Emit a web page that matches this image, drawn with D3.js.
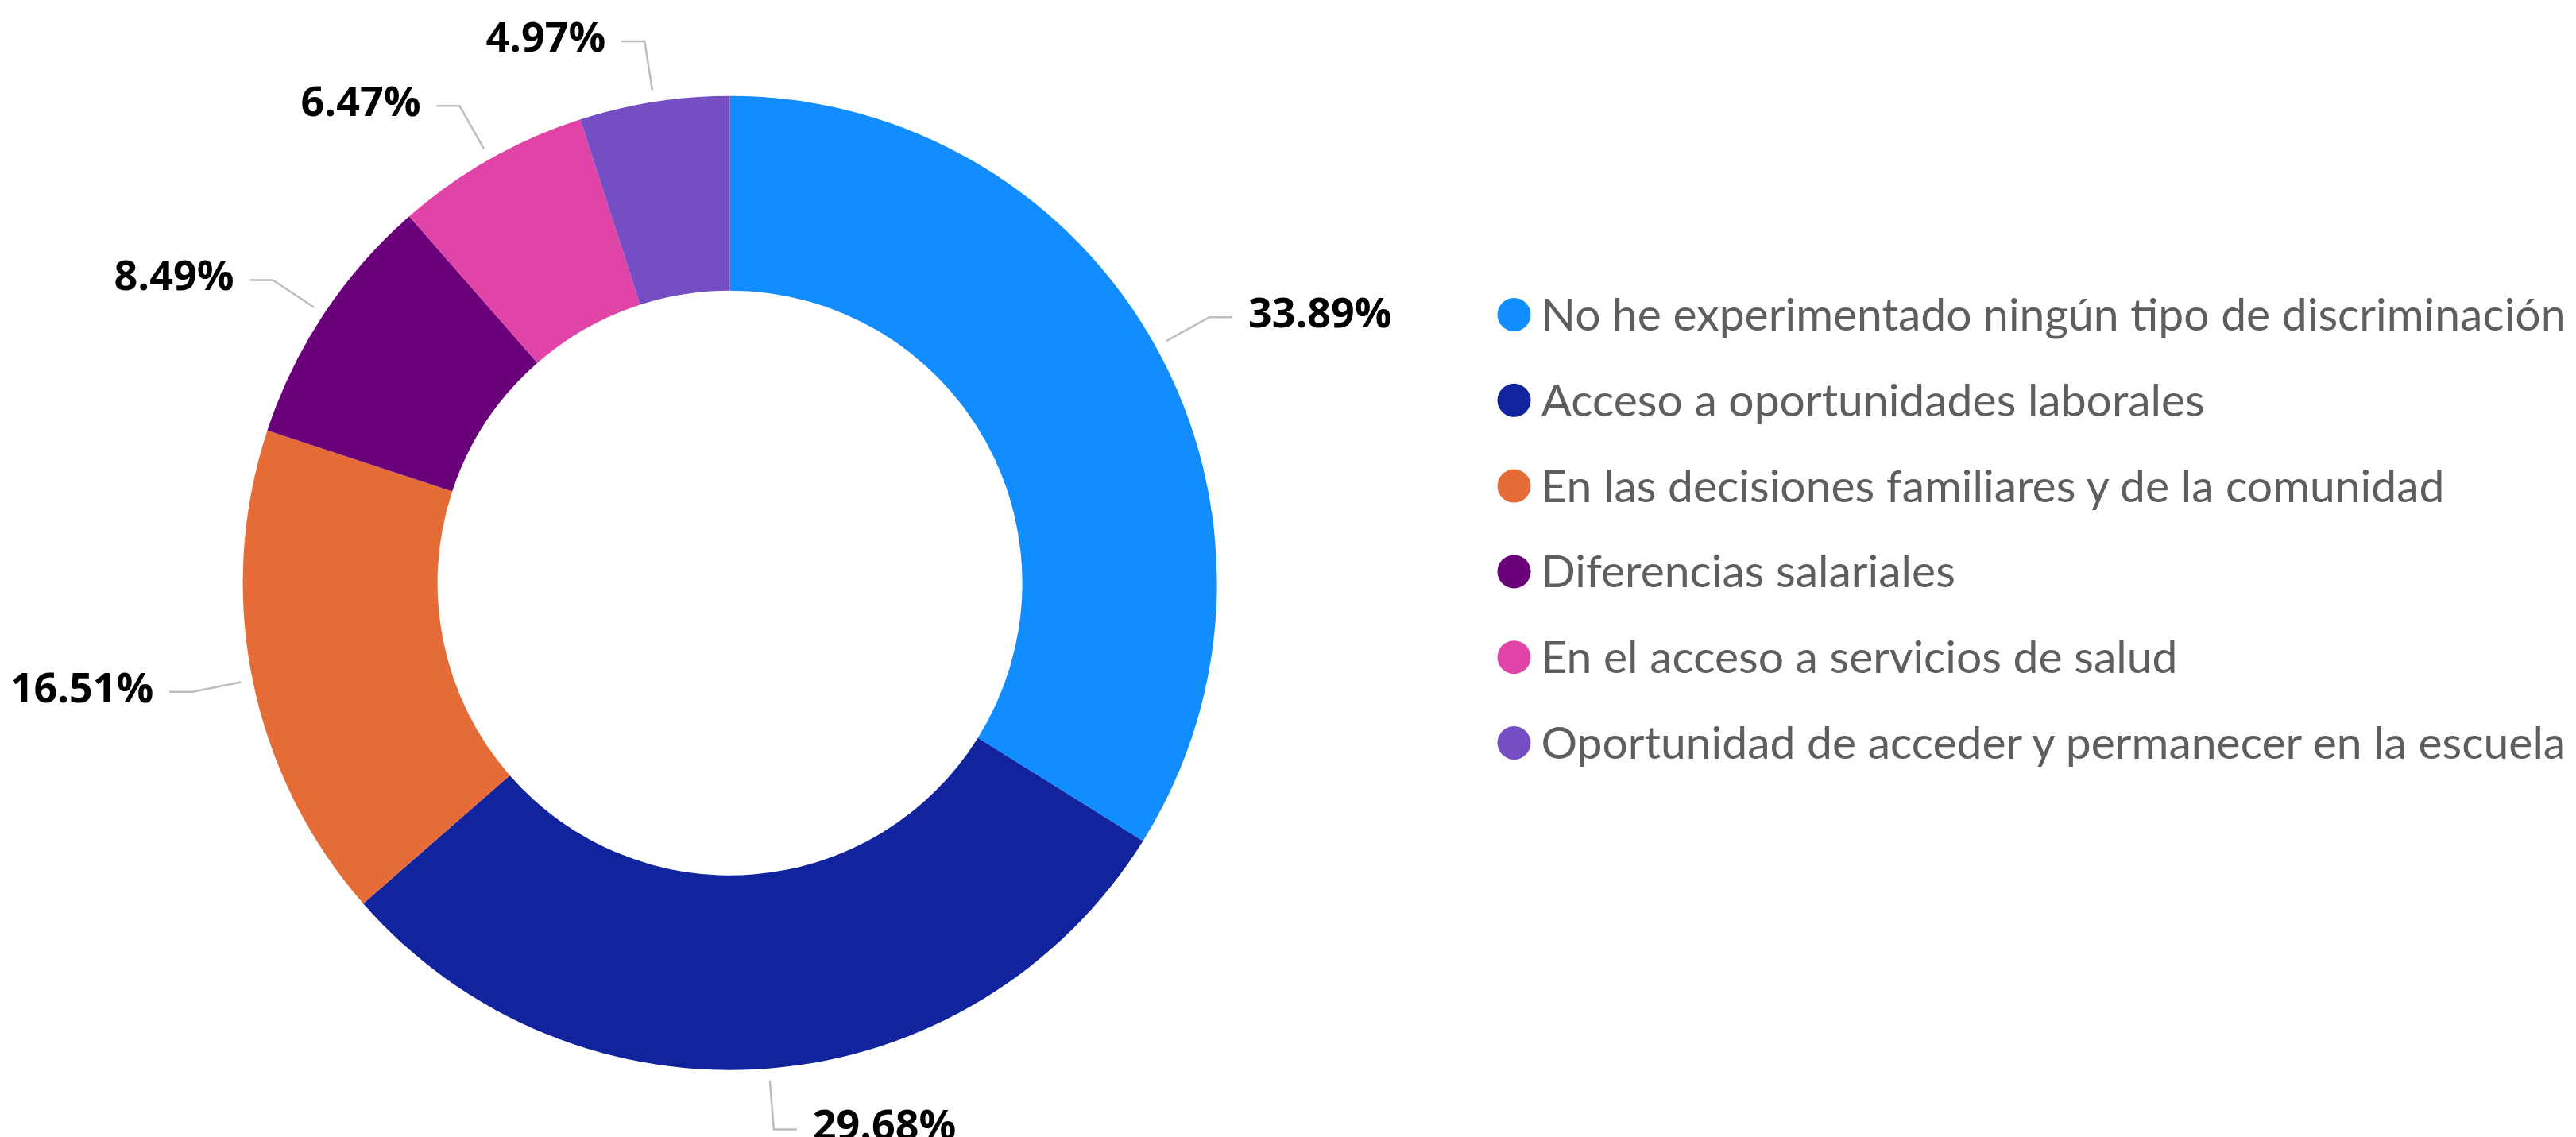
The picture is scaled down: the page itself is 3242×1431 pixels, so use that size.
<!DOCTYPE html>
<html>
<head>
<meta charset="utf-8">
<script src="https://cdn.jsdelivr.net/npm/d3@7/dist/d3.min.js"></script>
<style>
  body { margin: 0; background: #fff; }
  svg { display: block; }
</style>
</head>
<body>
<script>
// categories and values
const categories = [
    "No he experimentado ningún tipo de discriminación",
    "Acceso a oportunidades laborales",
    "En las decisiones familiares y de la comunidad",
    "Diferencias salariales",
    "En el acceso a servicios de salud",
    "Oportunidad de acceder y permanecer en la escuela"
];
const values = [33.89, 29.68, 16.51, 8.49, 6.47, 4.97];
const colors = ["#118DFF", "#12239E", "#E66C37", "#6B007B", "#E044A7", "#744EC2"];

const width = 3242, height = 1431;
const cx = 918.6, cy = 733.7;
const outerR = 613, innerR = 368;

function initSVG() {
    return d3.select("body")
        .append("svg")
        .attr("width", width)
        .attr("height", height);
}

function drawDonut(svg) {
    const pie = d3.pie().sort(null).value(d => d.value);
    const arcs = pie(categories.map((c, i) => ({ name: c, value: values[i], color: colors[i] })));

    const arc = d3.arc().innerRadius(innerR).outerRadius(outerR);
    // leader line: starts a bit off the ring, bends at the elbow radius
    const startArc = d3.arc().innerRadius(628).outerRadius(628);
    const elbowArc = d3.arc().innerRadius(690).outerRadius(690);

    const g = svg.append("g").attr("transform", `translate(${cx},${cy})`);

    g.selectAll("path.slice")
        .data(arcs)
        .join("path")
        .attr("class", "slice")
        .attr("d", arc)
        .style("fill", d => d.data.color);

    const hLen = 29, gap = 20;

    arcs.forEach(d => {
        const p0 = startArc.centroid(d);
        const p1 = elbowArc.centroid(d);
        const mid = (d.startAngle + d.endAngle) / 2;
        const right = mid < Math.PI;
        const p2 = [p1[0] + (right ? hLen : -hLen), p1[1]];

        g.append("polyline")
            .attr("points", [p0, p1, p2].map(p => p.join(",")).join(" "))
            .style("fill", "none")
            .style("stroke", "#BDBDBD")
            .style("stroke-width", 2.5);

        g.append("text")
            .attr("x", p2[0] + (right ? gap : -gap))
            .attr("y", p2[1] + 13)
            .attr("text-anchor", right ? "start" : "end")
            .style("font-family", "'Open Sans', sans-serif")
            .style("font-weight", 700)
            .style("font-size", "52px")
            .style("fill", "#000")
            .text(d.data.value.toFixed(2) + "%");
    });
}

function drawLegend(svg) {
    const y = d3.scalePoint()
        .domain(categories)
        .range([396, 935]);

    const items = svg.append("g")
        .selectAll("g")
        .data(categories)
        .join("g")
        .attr("transform", d => `translate(1905.5,${y(d)})`);

    items.append("circle")
        .attr("r", 21)
        .style("fill", (d, i) => colors[i]);

    const labels = items.append("text")
        .attr("x", 34)
        .attr("y", 20)
        .style("font-family", "Lato, sans-serif")
        .style("font-size", "57px")
        .style("fill", "#605E5C")
        .text(d => d);

    // shrink a little if the longest label runs past the right edge
    const maxW = d3.max(labels.nodes(), n => n.getComputedTextLength());
    const room = width - 1905.5 - 34 - 8;
    if (maxW > room) labels.style("font-size", (57 * room / maxW) + "px");
}

const svg = initSVG();
drawDonut(svg);
drawLegend(svg);
</script>
</body>
</html>
